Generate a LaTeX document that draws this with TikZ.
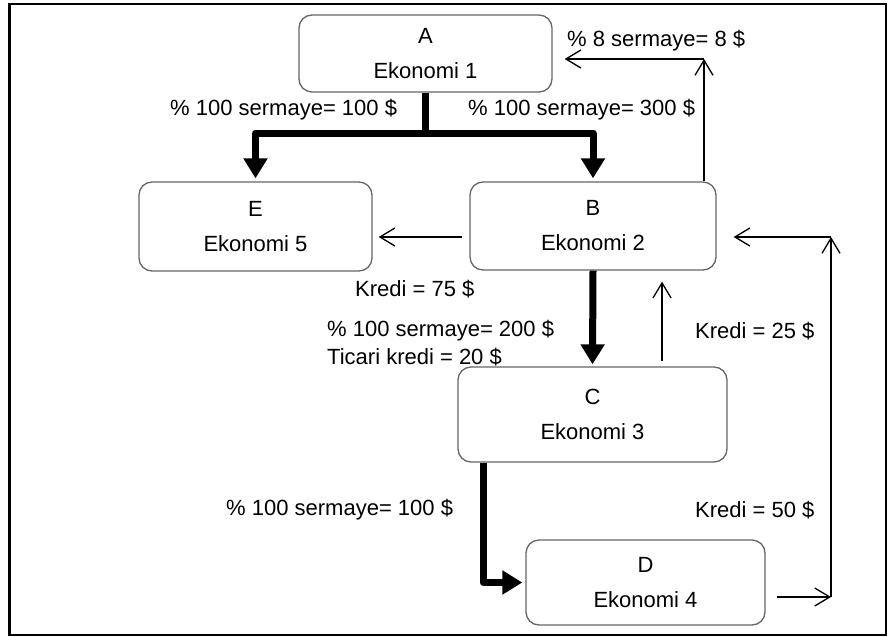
\documentclass[tikz,border=0pt]{standalone}
\usepackage{fontspec}
\setmainfont{Liberation Sans}
\usetikzlibrary{arrows.meta}
\begin{document}
\begin{tikzpicture}[x=1pt,y=-1pt,
  box/.style={draw=black!60, line width=1.3pt, rounded corners=13pt, inner sep=0pt,
    align=center, font=\fontsize{22}{35}\selectfont},
  thickarr/.style={line width=7pt, line join=round, -{Triangle[width=23pt,length=20pt]}},
  thinarr/.style={line width=1.3pt, -{Straight Barb[length=15pt,width=18pt]}},
  lbl/.style={font=\fontsize{22}{26}\selectfont, inner sep=0pt, anchor=west}]
\useasboundingbox (0,0) rectangle (894,637);
\draw[line width=2.2pt] (9.5,4) rectangle (886,635);

% boxes
\node[box, minimum width=253pt, minimum height=77pt] (A) at (425.5,53.5) {A\\Ekonomi 1};
\node[box, minimum width=233pt, minimum height=89pt] (E) at (255.5,226.5) {E\\Ekonomi 5};
\node[box, minimum width=246pt, minimum height=88pt] (B) at (593,226) {B\\Ekonomi 2};
\node[box, minimum width=269pt, minimum height=95pt] (C) at (592.5,414.5) {C\\Ekonomi 3};
\node[box, minimum width=239pt, minimum height=85pt] (D) at (645.5,582.5) {D\\Ekonomi 4};

% labels
\node[lbl] (l1) at (170,110) {\% 100 sermaye= 100 \$};
\node[lbl] (l2) at (468,110) {\% 100 sermaye= 300 \$};
\node[lbl] (l3) at (567,41) {\% 8 sermaye= 8 \$};
\node[lbl] (l4) at (355,289) {Kredi = 75 \$};
\node[lbl] (l5) at (327,331) {\% 100 sermaye= 200 \$};
\node[lbl] (l6) at (327,357) {Ticari kredi = 20 \$};
\node[lbl] (l7) at (695,331) {Kredi = 25 \$};
\node[lbl] (l8) at (226,510) {\% 100 sermaye= 100 \$};
\node[lbl] (l9) at (695,510) {Kredi = 50 \$};

% thick connectors
\coordinate (j) at (425.5,133);
\draw[thickarr] (j) -| ([yshift=3pt]B.north);
\draw[thickarr] (A.south) -- (j) -| ([yshift=3pt]E.north);
\draw[thickarr] (B.south) -- ([yshift=2pt]C.north);
\draw[thickarr] ([xshift=-109.5pt]C.south) |- ([xshift=-3pt]D.west);

% thin connectors
\draw[thinarr] ([shift={(-7pt,-11pt)}]B.west) -- ([shift={(6pt,-10.5pt)}]E.east);
\draw[thinarr] ([shift={(69.5pt,5pt)}]C.north) -- ([shift={(69pt,-11pt)}]B.south);
\coordinate (tr) at (704,59);
\draw[thinarr] ([xshift=111pt]B.north) -- (tr);
\draw[thinarr] (tr) -- ([shift={(12pt,-5.5pt)}]A.east);
\coordinate (dr) at (831,597);
\coordinate (br) at (831,237);
\draw[thinarr] ([shift={(11pt,-14.5pt)}]D.east) -- (dr);
\draw[thinarr] (dr) -- (br);
\draw[thinarr] (br) -- ([shift={(17pt,-11pt)}]B.east);
\end{tikzpicture}
\end{document}
